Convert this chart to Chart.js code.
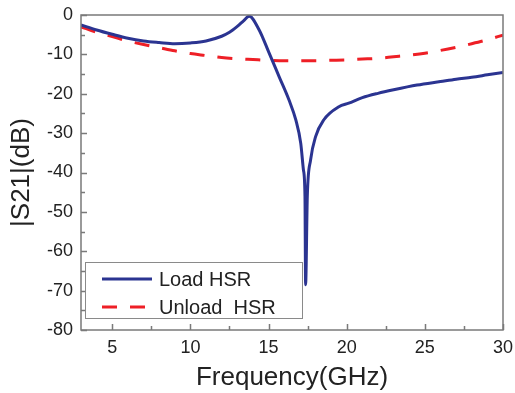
<!DOCTYPE html>
<html>
<head>
<meta charset="utf-8">
<script src="https://cdn.jsdelivr.net/npm/chart.js@4.4.0/dist/chart.umd.min.js"></script>
<style>
  html, body { margin: 0; padding: 0; background: #fff; }
  #wrap { width: 515px; height: 393px; position: relative; }
</style>
</head>
<body>
<div id="wrap"><canvas id="grafico"></canvas></div>
<script>
/* ================= DADOS ================= */
const freqLoad = [3, 4, 5, 6, 7, 8, 9, 10, 11, 12, 12.5, 13, 13.4, 13.76, 14.4, 15.04, 15.68, 16.31, 16.74, 17.06, 17.23, 17.33, 17.37, 17.48, 17.69, 18.01, 18.54, 19.5, 20.13, 21, 22, 23, 24.5, 26, 27, 28, 29, 30];
const s21Load = [-2.5, -3.8, -4.9, -5.9, -6.6, -7.0, -7.3, -7.1, -6.6, -5.4, -4.4, -2.9, -1.5, -0.3, -3.8, -9.7, -15.7, -21.6, -26.6, -32.6, -39.3, -46, -68.5, -46, -36.8, -30.9, -26.6, -23.3, -22.4, -21.0, -19.9, -19.0, -17.8, -16.9, -16.3, -15.8, -15.2, -14.6];

const freqUnload = [3, 4, 5, 6, 7, 8, 9, 10, 11, 12, 13, 14, 15, 16, 17, 18, 19, 20, 21, 22, 23, 24, 25, 26, 27, 28, 29, 30];
const s21Unload = [-3, -4.4, -5.5, -6.6, -7.5, -8.3, -9.1, -9.8, -10.3, -10.8, -11.1, -11.3, -11.5, -11.6, -11.6, -11.6, -11.5, -11.4, -11.2, -11.0, -10.6, -10.2, -9.7, -9.0, -8.2, -7.3, -6.3, -5.1];

const nomes = ["Load HSR", "Unload  HSR"];
const xMinor = [7.5, 12.5, 17.5, 22.5, 27.5];
const yMinor = [-75, -65, -55, -45, -35, -25, -15, -5];

const AZUL = "#2b3491";
const VERMELHO = "#ee1f26";
const CINZA = "#7a7a7a";
const FONTE = "'Liberation Sans', Arial, sans-serif";

/* ================= PLUGIN: caixa, ticks internos, legenda ================= */
const molduraPlugin = {
  id: "moldura",
  afterDatasetsDraw(chart) {
    const ctx = chart.ctx;
    const a = chart.chartArea;
    const sx = chart.scales.x, sy = chart.scales.y;
    ctx.save();
    ctx.strokeStyle = CINZA;
    ctx.lineWidth = 1.5;
    ctx.strokeRect(a.left, a.top, a.right - a.left, a.bottom - a.top);

    ctx.beginPath();
    sx.ticks.forEach(t => {
      const px = Math.round(sx.getPixelForValue(t.value)) + 0.5;
      ctx.moveTo(px, a.bottom); ctx.lineTo(px, a.bottom - 6);
    });
    xMinor.forEach(v => {
      const px = Math.round(sx.getPixelForValue(v)) + 0.5;
      ctx.moveTo(px, a.bottom); ctx.lineTo(px, a.bottom - 4);
    });
    sy.ticks.forEach(t => {
      const py = Math.round(sy.getPixelForValue(t.value)) + 0.5;
      ctx.moveTo(a.left, py); ctx.lineTo(a.left + 6, py);
    });
    yMinor.forEach(v => {
      const py = Math.round(sy.getPixelForValue(v)) + 0.5;
      ctx.moveTo(a.left, py); ctx.lineTo(a.left + 4, py);
    });
    ctx.stroke();

    // legenda
    const lx = a.left + 4, ly = a.bottom - 68, lw = 217, lh = 56;
    ctx.fillStyle = "#fff";
    ctx.fillRect(lx, ly, lw, lh);
    ctx.strokeStyle = "#8a8a8a";
    ctx.lineWidth = 1;
    ctx.strokeRect(lx + 0.5, ly + 0.5, lw, lh);

    chart.data.datasets.forEach((ds, i) => {
      const yy = ly + 17 + i * 28;
      ctx.beginPath();
      ctx.strokeStyle = ds.borderColor;
      ctx.lineWidth = ds.borderWidth;
      ctx.setLineDash(ds.borderDash || []);
      ctx.moveTo(lx + 17, yy);
      ctx.lineTo(lx + 67, yy);
      ctx.stroke();
      ctx.setLineDash([]);
      ctx.fillStyle = "#222";
      ctx.font = "20px " + FONTE;
      ctx.textBaseline = "middle";
      ctx.textAlign = "left";
      ctx.fillText(ds.label, lx + 74, yy + 1);
    });
    ctx.restore();
  }
};

/* ================= GRÁFICO ================= */
const grafico = new Chart(document.getElementById("grafico"), {
  type: "line",
  data: {
    datasets: [
      {
        label: nomes[0],
        data: freqLoad.map((f, i) => ({ x: f, y: s21Load[i] })),
        borderColor: AZUL,
        borderWidth: 3,
        pointRadius: 0,
        cubicInterpolationMode: "monotone",
        fill: false
      },
      {
        label: nomes[1],
        data: freqUnload.map((f, i) => ({ x: f, y: s21Unload[i] })),
        borderColor: VERMELHO,
        borderWidth: 3,
        borderDash: [15, 13],
        pointRadius: 0,
        cubicInterpolationMode: "monotone",
        fill: false
      }
    ]
  },
  options: {
    responsive: true,
    maintainAspectRatio: false,
    animation: false,
    layout: { padding: { left: 0, right: 12, top: 15, bottom: 0 } },
    plugins: { legend: { display: false }, tooltip: { enabled: false } },
    scales: {
      x: {
        type: "linear",
        min: 3,
        max: 30,
        grid: { display: false, drawTicks: false },
        border: { display: false },
        ticks: {
          stepSize: 5,
          includeBounds: false,
          padding: 7,
          color: "#222",
          font: { size: 18, family: FONTE }
        },
        title: {
          display: true,
          text: "Frequency(GHz)",
          color: "#222",
          padding: { top: 0, bottom: 0 },
          font: { size: 26, family: FONTE }
        },
        afterFit: s => { s.height = 63; s.paddingLeft = 0; s.paddingRight = 0; }
      },
      y: {
        min: -80,
        max: 0,
        grid: { display: false, drawTicks: false },
        border: { display: false },
        ticks: {
          stepSize: 10,
          padding: 8,
          color: "#222",
          font: { size: 18, family: FONTE }
        },
        title: {
          display: true,
          text: "|S21|(dB)",
          color: "#222",
          padding: { top: 6, bottom: 0 },
          font: { size: 26, family: FONTE }
        },
        afterFit: s => { s.width = 81; s.paddingTop = 0; s.paddingBottom = 0; }
      }
    }
  },
  plugins: [molduraPlugin]
});
</script>
</body>
</html>
